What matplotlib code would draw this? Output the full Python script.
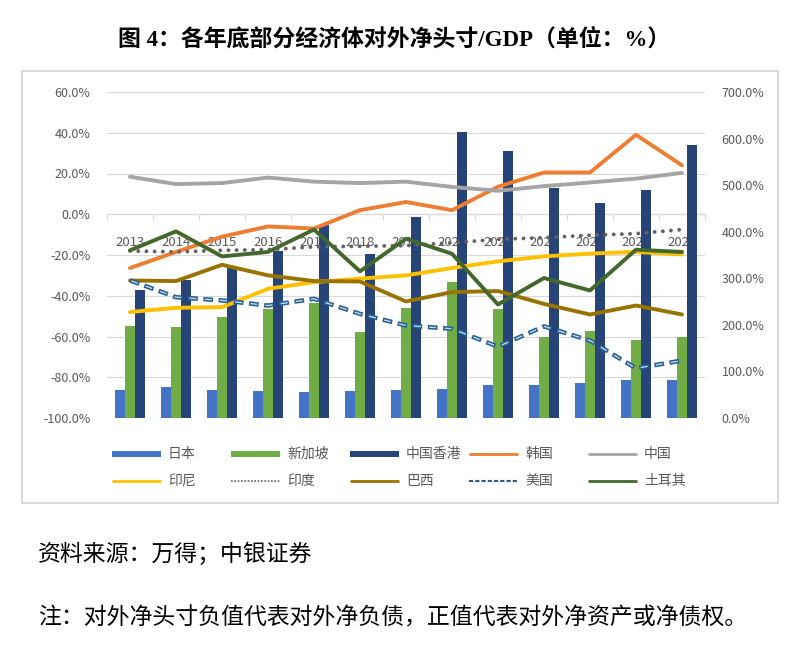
import matplotlib
matplotlib.use("Agg")
import matplotlib.pyplot as plt
import numpy as np
from matplotlib.lines import Line2D
from matplotlib.patches import Rectangle

plt.rcParams["font.family"] = ["Noto Sans CJK SC", "DejaVu Sans"]

years = [str(y) for y in range(2013, 2026)]

# bars, right axis (%)
japan = [60, 67, 60, 58, 56, 58, 60, 62, 70, 70, 76, 82, 82]
singapore = [198, 195, 216, 235, 246, 185, 237, 292, 233, 173, 187, 168, 175]
hongkong = [274, 297, 323, 358, 414, 353, 432, 614, 574, 493, 462, 490, 586]

# lines, left axis (%)
korea = [-26.4, -18.5, -11, -6, -7, 2, 6, 2, 13.5, 20.5, 20.5, 39, 24]
china = [18.4, 14.8, 15.3, 18, 16, 15.3, 16, 13.4, 11.5, 13.8, 15.6, 17.5, 20.3]
indonesia = [-48, -45.9, -45.6, -36.6, -33.3, -31.6, -30, -26.4, -23.1, -20.7, -19.3, -18.5, -19.7]
india = [-18, -18.5, -17.7, -17.4, -16, -15.7, -15.4, -14, -12.3, -11.5, -10.3, -9.5, -7.5]
brazil = [-32.5, -32.8, -24.8, -30, -32.8, -33, -42.8, -38.2, -37.7, -44, -49.2, -44.8, -49.2]
usa = [-32.5, -40.7, -42.3, -44.8, -41.5, -48.9, -54.6, -56.2, -65, -55, -62, -75.6, -71.8]
turkey = [-17.7, -8.4, -20.7, -18.5, -7.5, -28, -12, -19.4, -44.3, -31.3, -37.4, -17.4, -18.5]

legend_labels = [["日本", "新加坡", "中国香港", "韩国", "中国"],
                 ["印尼", "印度", "巴西", "美国", "土耳其"]]

c_japan, c_sg, c_hk = "#4472C4", "#70AD47", "#264478"
c_korea, c_china, c_indo = "#ED7D31", "#A5A5A5", "#FFC000"
c_india, c_brazil, c_us, c_turkey = "#636363", "#997300", "#255E91", "#43682B"
tick_color = "#595959"
grid_color = "#D9D9D9"

W, H = 788, 647
fig = plt.figure(figsize=(W / 100, H / 100), dpi=100)
fig.patch.set_facecolor("white")

def fx(px):
    return px / W

def fy(py):
    return 1 - py / H

rect = [fx(107), fy(418), fx(705) - fx(107), fy(92) - fy(418)]
ax = fig.add_axes(rect)
ax2 = ax.twinx()
ax3 = ax.twinx()
ax.set_zorder(1)
ax2.set_zorder(2)
ax3.set_zorder(3)
ax2.patch.set_visible(False)
ax3.patch.set_visible(False)

x = np.arange(len(years))

# left axis: grid, category labels
ax.set_xlim(-0.5, len(years) - 0.5)
ax.set_ylim(-100, 60)
ax.set_yticks(np.arange(-100, 61, 20))
ax.set_yticklabels(["{:.1f}%".format(v) for v in np.arange(-100, 61, 20)])
ax.yaxis.grid(True, color=grid_color, lw=0.8)
ax.set_axisbelow(True)
for s in ["left", "right", "top"]:
    ax.spines[s].set_visible(False)
ax.spines["bottom"].set_position(("data", 0))
ax.spines["bottom"].set_color(grid_color)
ax.spines["bottom"].set_linewidth(0.9)
ax.set_xticks(x)
ax.set_xticklabels(years)
ax.set_xticks(np.arange(-0.5, len(years), 1), minor=True)
ax.tick_params(axis="x", which="major", length=0, pad=16, labelsize=9.5, labelcolor=tick_color)
ax.tick_params(axis="x", which="minor", length=4, color=grid_color, width=0.9)
ax.tick_params(axis="y", length=0, pad=12, labelsize=9, labelcolor=tick_color)

# right axis: bars
w = 0.217
ax2.bar(x - w, japan, w, color=c_japan)
ax2.bar(x, singapore, w, color=c_sg)
ax2.bar(x + w, hongkong, w, color=c_hk)
ax2.set_ylim(0, 700)
ax2.set_yticks(np.arange(0, 701, 100))
ax2.set_yticklabels(["{:.1f}%".format(v) for v in np.arange(0, 701, 100)])
ax2.tick_params(axis="y", length=0, pad=12, labelsize=9, labelcolor=tick_color)
for s in ax2.spines.values():
    s.set_visible(False)

# lines on left scale
ax3.set_ylim(ax.get_ylim())
ax3.set_yticks([])
for s in ax3.spines.values():
    s.set_visible(False)
lw = 2.8
ax3.plot(x, korea, color=c_korea, lw=lw, solid_capstyle="round")
ax3.plot(x, china, color=c_china, lw=lw, solid_capstyle="round")
ax3.plot(x, indonesia, color=c_indo, lw=lw, solid_capstyle="round")
ax3.plot(x, india, color=c_india, lw=2.8, linestyle=(0, (0.01, 2.1)), dash_capstyle="round")
ax3.plot(x, brazil, color=c_brazil, lw=lw, solid_capstyle="round")
ax3.plot(x, usa, color=c_us, lw=3.2, linestyle=(0, (7 / 3.2, 4 / 3.2)))
ax3.plot(x, usa, color="#BDD7EE", lw=1.0, linestyle=(10, (5, 6)))
ax3.plot(x, turkey, color=c_turkey, lw=lw, solid_capstyle="round")

# legend, Excel style grid
handles = [[dict(color=c_japan, lw=4.3), dict(color=c_sg, lw=4.3), dict(color=c_hk, lw=4.3),
            dict(color=c_korea, lw=2.0), dict(color=c_china, lw=2.0)],
           [dict(color=c_indo, lw=2.0), dict(color=c_india, lw=1.2, linestyle=(0, (1, 1))),
            dict(color=c_brazil, lw=2.0), dict(color=c_us, lw=1.5, linestyle=(0, (2, 1))),
            dict(color=c_turkey, lw=2.0)]]
for r in range(2):
    yy = fy(454 + 27 * r)
    for c in range(5):
        x0 = 112 + 119 * c
        fig.add_artist(Line2D([fx(x0), fx(x0 + 49)], [yy, yy], transform=fig.transFigure,
                              solid_capstyle="butt", **handles[r][c]))
        fig.text(fx(x0 + 56), yy, legend_labels[r][c], fontsize=10, color=tick_color,
                 ha="left", va="center")

# chart frame
fig.add_artist(Rectangle((fx(22), fy(503)), fx(778) - fx(22), fy(71) - fy(503),
                         transform=fig.transFigure, fill=False, edgecolor=grid_color, lw=1.5))

fig.text(0.5, fy(40), "图 4：各年底部分经济体对外净头寸/GDP（单位：%）", ha="center", va="center",
         fontsize=16.5, fontweight="bold", family=["Liberation Serif", "Noto Sans CJK SC"])
fig.text(fx(38), fy(554), "资料来源：万得；中银证券", ha="left", va="center", fontsize=16.5, color="black")
fig.text(fx(38), fy(618), "注：对外净头寸负值代表对外净负债，正值代表对外净资产或净债权。", ha="left",
         va="center", fontsize=16.5, color="black")

fig.savefig("out.png", dpi=100, facecolor="white")
